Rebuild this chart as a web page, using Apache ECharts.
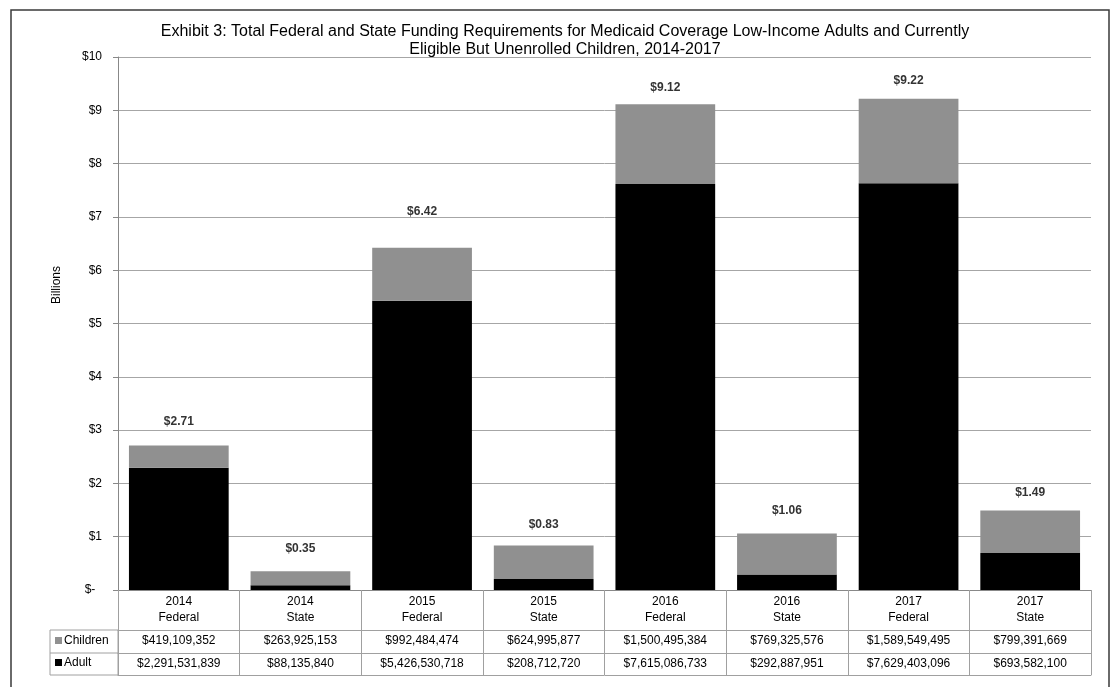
<!DOCTYPE html>
<html>
<head>
<meta charset="utf-8">
<style>
  html, body { margin: 0; padding: 0; background: #fff; }
  #chart { width: 1111px; height: 687px; }
</style>
<script src="https://cdn.jsdelivr.net/npm/echarts@6/dist/echarts.min.js"></script>
</head>
<body>
<div id="chart"></div>
<script>
// Funding requirement by year and payer
const categories = ['2014\nFederal', '2014\nState', '2015\nFederal', '2015\nState',
                    '2016\nFederal', '2016\nState', '2017\nFederal', '2017\nState'];
const childrenDollars = [419109352, 263925153, 992484474, 624995877,
                         1500495384, 769325576, 1589549495, 799391669];
const adultDollars = [2291531839, 88135840, 5426530718, 208712720,
                      7615086733, 292887951, 7629403096, 693582100];
const yTicks = [0, 1, 2, 3, 4, 5, 6, 7, 8, 9, 10];

// vertical gap (px) between each stack top and its total label
const totalLabelGap = [18, 17, 30, 15, 10, 17, 12, 12];

const BILLION = 1e9;
const adultB = adultDollars.map(v => v / BILLION);
const childrenB = childrenDollars.map(v => v / BILLION);
const totalsB = adultB.map((v, i) => v + childrenB[i]);

const fmtDollars = v => '$' + v.toLocaleString('en-US');

const FONT = 'Liberation Sans, Arial, sans-serif';
const GRID_LINE = '#a6a6a6';
const TABLE_LINE = '#a0a0a0';
const CHILD_GRAY = '#909090';

const chart = echarts.init(document.getElementById('chart'), null, { renderer: 'canvas' });

const tableRowAxis = (data, offset, showLabels) => ({
  type: 'category',
  data: data,
  position: 'bottom',
  gridIndex: 0,
  offset: offset,
  axisLine: { show: true, lineStyle: { color: TABLE_LINE, width: 1 } },
  axisTick: { show: false },
  axisLabel: {
    show: showLabels, interval: 0, margin: 5,
    fontFamily: FONT, fontSize: 12, color: '#000'
  },
  splitLine: { show: false }
});

chart.setOption({
  animation: false,
  backgroundColor: '#fff',
  title: {
    text: 'Exhibit 3: Total Federal and State Funding Requirements for Medicaid Coverage Low-Income Adults and Currently\nEligible But Unenrolled Children, 2014-2017',
    left: 560, top: 18, textAlign: 'center',
    textStyle: { fontFamily: FONT, fontSize: 16, fontWeight: 'normal', color: '#000', lineHeight: 18 }
  },
  grid: { left: 118, right: 20, top: 57, bottom: 97, containLabel: false },
  xAxis: [
    {
      type: 'category',
      data: categories,
      position: 'bottom',
      axisLine: { show: true, lineStyle: { color: '#888', width: 1 } },
      axisTick: { show: true, interval: 0, length: 85, lineStyle: { color: TABLE_LINE, width: 1 } },
      axisLabel: {
        interval: 0, margin: 4, fontFamily: FONT, fontSize: 12, lineHeight: 16, color: '#000'
      },
      splitLine: { show: false }
    },
    tableRowAxis(childrenDollars.map(fmtDollars), 40, true),
    tableRowAxis(adultDollars.map(fmtDollars), 63, true),
    tableRowAxis(categories, 85, false)
  ],
  yAxis: {
    type: 'value',
    min: yTicks[0], max: yTicks[yTicks.length - 1], interval: 1,
    axisLine: { show: true, lineStyle: { color: '#888', width: 1 } },
    axisTick: { show: true, length: 5, lineStyle: { color: '#888' } },
    axisLabel: {
      margin: 16, fontFamily: FONT, fontSize: 12, color: '#000',
      formatter: v => v === 0 ? '$-  ' : '$' + v
    },
    splitLine: { show: true, lineStyle: { color: GRID_LINE, width: 1 } }
  },
  series: [
    {
      name: 'Adult', type: 'bar', stack: 'total', xAxisIndex: 0,
      data: adultB, barWidth: '82%',
      itemStyle: { color: '#000' }
    },
    {
      name: 'Children', type: 'bar', stack: 'total', xAxisIndex: 0,
      data: childrenB.map((v, i) => ({
        value: v,
        label: { distance: totalLabelGap[i] }
      })),
      barWidth: '82%',
      itemStyle: { color: CHILD_GRAY },
      label: {
        show: true, position: 'top',
        fontFamily: FONT, fontSize: 12, fontWeight: 'bold', color: '#333',
        formatter: p => '$' + totalsB[p.dataIndex].toFixed(2)
      }
    }
  ],
  graphic: [
    // outer frame
    { type: 'rect', shape: { x: 11, y: 10, width: 1098, height: 690 },
      style: { fill: null, stroke: '#3a3a3a', lineWidth: 1.5 }, silent: true },
    // axis title
    { type: 'text', x: 57, y: 285, rotation: Math.PI / 2,
      style: { text: 'Billions', fontFamily: FONT, fontSize: 12, fill: '#000',
               align: 'center', verticalAlign: 'middle' } },
    // legend column of the data table
    { type: 'rect', shape: { x: 50, y: 630, width: 68, height: 45 },
      style: { fill: null, stroke: TABLE_LINE, lineWidth: 1 } },
    { type: 'line', shape: { x1: 50, y1: 653, x2: 118, y2: 653 },
      style: { stroke: TABLE_LINE, lineWidth: 1 } },
    { type: 'rect', shape: { x: 55, y: 637, width: 7, height: 7 }, style: { fill: CHILD_GRAY } },
    { type: 'text', x: 64, y: 641,
      style: { text: 'Children', fontFamily: FONT, fontSize: 12, fill: '#000', verticalAlign: 'middle' } },
    { type: 'rect', shape: { x: 55, y: 659, width: 7, height: 7 }, style: { fill: '#000' } },
    { type: 'text', x: 64, y: 663,
      style: { text: 'Adult', fontFamily: FONT, fontSize: 12, fill: '#000', verticalAlign: 'middle' } }
  ]
});
</script>
</body>
</html>
